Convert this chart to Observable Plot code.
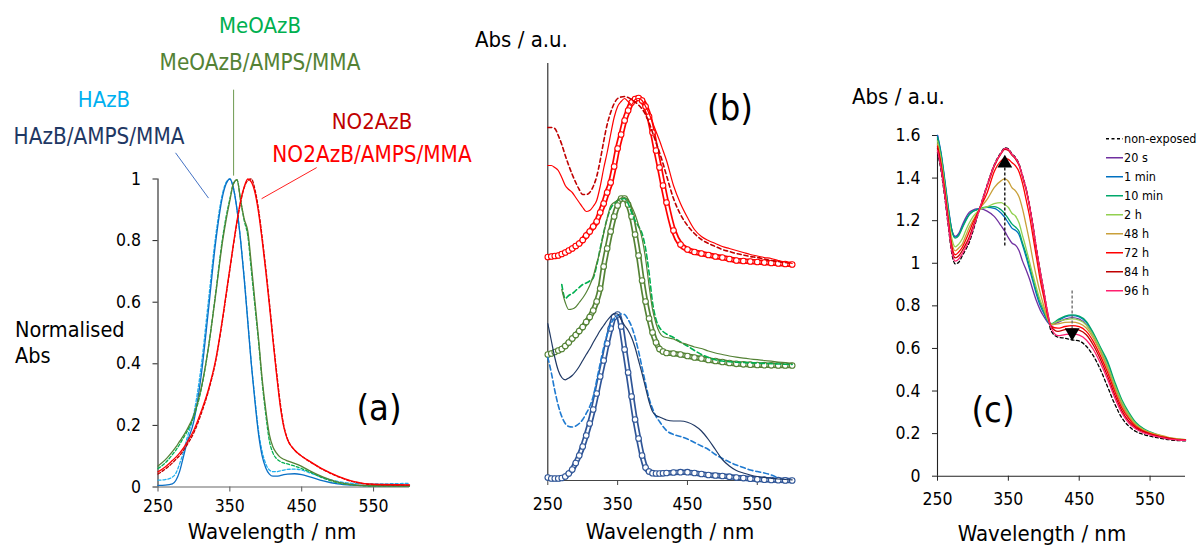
<!DOCTYPE html>
<html><head><meta charset="utf-8">
<script src="https://cdn.jsdelivr.net/npm/d3@7"></script>
<script src="https://cdn.jsdelivr.net/npm/@observablehq/plot@0.6"></script>
<style>
html,body{margin:0;padding:0;background:#fff;}
#fig{position:relative;width:1197px;height:546px;overflow:hidden;background:#fff;font-family:'DejaVu Sans Condensed','DejaVu Sans',sans-serif;color:#000;}
.pw{position:absolute;top:0;}
.lbl{position:absolute;white-space:nowrap;line-height:1;transform:translate(-50%,-50%);}
.lft{transform:translate(0,-50%);}
.leg{position:absolute;white-space:nowrap;font-size:12.5px;line-height:1;display:flex;align-items:center;transform:translate(0,-50%);}
.leg svg{margin-right:1px;}
</style></head><body><div id="fig"></div>
<script>
// ---------- tick values ----------
const xTicks = [250, 350, 450, 550];
const aYTicks = [0, 0.2, 0.4, 0.6, 0.8, 1];
const cYTicks = [0, 0.2, 0.4, 0.6, 0.8, 1, 1.2, 1.4, 1.6];

// ---------- panel (a): normalised spectra ----------
const lambdaA = [250,260,270,275,280,285,290,300,310,320,330,340,345,350,355,360,365,370,375,380,385,390,395,400,405,410,415,420,425,430,440,450,460,480,500,520,550,600];
const aHAzBFilm = [0.005,0.006,0.01,0.022,0.05,0.095,0.14,0.215,0.36,0.57,0.79,0.945,0.985,1.0,0.97,0.9,0.8,0.675,0.535,0.395,0.275,0.17,0.1,0.062,0.042,0.035,0.035,0.037,0.04,0.042,0.043,0.04,0.034,0.02,0.01,0.006,0.004,0.004];
const aHAzB = [0.022,0.024,0.032,0.045,0.075,0.11,0.155,0.24,0.39,0.6,0.81,0.955,0.99,1.0,0.97,0.9,0.8,0.68,0.54,0.4,0.285,0.18,0.115,0.075,0.055,0.05,0.05,0.052,0.055,0.057,0.058,0.055,0.047,0.03,0.018,0.012,0.01,0.012];
const aMeOFilm = [0.068,0.088,0.115,0.13,0.148,0.165,0.185,0.235,0.32,0.45,0.62,0.8,0.87,0.93,0.985,0.998,0.93,0.87,0.83,0.72,0.6,0.48,0.35,0.25,0.17,0.13,0.11,0.097,0.09,0.085,0.077,0.067,0.054,0.032,0.016,0.008,0.004,0.003];
const aMeO = [0.06,0.078,0.105,0.12,0.138,0.158,0.178,0.23,0.315,0.45,0.625,0.81,0.88,0.935,0.985,0.997,0.93,0.865,0.815,0.7,0.585,0.47,0.34,0.235,0.15,0.11,0.092,0.083,0.078,0.075,0.068,0.06,0.05,0.029,0.014,0.007,0.003,0.003];
const aNO2Film = [0.049,0.065,0.086,0.097,0.11,0.125,0.143,0.185,0.245,0.315,0.41,0.55,0.63,0.71,0.79,0.865,0.93,0.975,1.0,0.99,0.955,0.89,0.8,0.7,0.59,0.475,0.365,0.265,0.195,0.155,0.12,0.1,0.085,0.057,0.035,0.019,0.009,0.007];
const aNO2 = [0.042,0.058,0.078,0.09,0.102,0.117,0.135,0.177,0.237,0.31,0.405,0.545,0.625,0.705,0.785,0.86,0.925,0.972,0.995,1.0,0.965,0.9,0.81,0.71,0.6,0.485,0.375,0.275,0.2,0.158,0.12,0.1,0.084,0.056,0.034,0.018,0.008,0.006];
// leader lines of the labels (data units)
const leadX1 = [274.4, 355.2, 470.8];
const leadY1 = [1.085, 1.29, 1.037];
const leadX2 = [320.3, 355.2, 394.2];
const leadY2 = [0.938, 1.011, 0.936];

// ---------- panel (b): stacked spectra (a.u.) ----------
const lambdaB = [250,255,260,265,270,275,280,285,290,295,300,305,310,315,320,325,330,335,340,345,350,355,360,365,370,375,380,385,390,395,400,405,410,415,420,430,440,450,460,470,480,490,500,510,520,530,540,550,560,570,580,590,600];
const bHCirc = [0.03,0.02,0.02,0.02,0.025,0.04,0.07,0.11,0.175,0.25,0.34,0.45,0.57,0.71,0.87,1.04,1.2,1.37,1.52,1.635,1.66,1.54,1.31,1.08,0.84,0.61,0.42,0.25,0.13,0.09,0.073,0.07,0.07,0.072,0.075,0.08,0.083,0.083,0.075,0.065,0.055,0.05,0.045,0.038,0.03,0.024,0.018,0.012,0.008,0.005,0.003,0.001,0];
const bHSolid = [1.57,1.4,1.23,1.1,1.03,1.007,1.025,1.05,1.09,1.14,1.2,1.26,1.315,1.38,1.44,1.5,1.55,1.6,1.64,1.67,1.665,1.61,1.55,1.5,1.43,1.33,1.2,1.07,0.93,0.79,0.69,0.65,0.635,0.62,0.605,0.595,0.595,0.583,0.55,0.495,0.41,0.31,0.21,0.145,0.1,0.075,0.055,0.04,0.032,0.022,0.015,0.01,0.007];
const bHDash = [1.23,1.08,0.9,0.75,0.64,0.57,0.54,0.535,0.545,0.57,0.61,0.67,0.74,0.84,1.0,1.17,1.33,1.46,1.56,1.62,1.65,1.665,1.66,1.61,1.54,1.43,1.29,1.13,0.97,0.82,0.72,0.64,0.59,0.54,0.5,0.46,0.44,0.415,0.38,0.345,0.31,0.26,0.22,0.185,0.155,0.13,0.105,0.09,0.075,0.055,0.025,null,null];
const bMCirc = [1.26,1.27,1.285,1.3,1.315,1.345,1.38,1.42,1.455,1.495,1.535,1.585,1.635,1.7,1.79,1.92,2.14,2.32,2.49,2.64,2.75,2.82,2.82,2.76,2.64,2.46,2.25,2.0,1.79,1.62,1.48,1.38,1.315,1.29,1.275,1.27,1.26,1.245,1.23,1.22,1.205,1.195,1.185,1.175,1.167,1.162,1.158,1.155,1.153,1.152,1.151,1.15,1.15];
const bMSolid = [null,null,null,null,1.91,1.78,1.71,1.715,1.735,1.78,1.825,1.88,1.95,2.04,2.17,2.3,2.47,2.62,2.745,2.78,2.8,2.825,2.83,2.8,2.74,2.66,2.55,2.42,2.22,1.95,1.71,1.57,1.48,1.44,1.43,1.415,1.38,1.36,1.335,1.32,1.295,1.275,1.26,1.245,1.233,1.223,1.215,1.208,1.2,1.193,1.185,1.178,1.17];
const bMDash = [null,null,null,null,1.96,1.82,1.85,1.87,1.9,1.93,1.96,1.975,1.995,2.025,2.15,2.32,2.48,2.62,2.72,2.77,2.8,2.815,2.82,2.77,2.68,2.6,2.54,2.47,2.32,2.08,1.78,1.61,1.53,1.49,1.465,1.43,1.385,1.345,1.3,1.26,1.23,1.207,1.195,1.188,1.183,1.18,1.177,1.174,1.171,1.168,1.165,1.162,1.16];
const bNCirc = [2.235,2.24,2.245,2.25,2.265,2.28,2.3,2.32,2.345,2.37,2.405,2.45,2.49,2.54,2.59,2.68,2.77,2.88,2.98,3.14,3.32,3.46,3.6,3.7,3.78,3.815,3.825,3.8,3.74,3.64,3.48,3.3,3.13,2.95,2.78,2.5,2.36,2.31,2.285,2.27,2.255,2.24,2.23,2.215,2.2,2.195,2.19,2.185,2.18,2.175,2.17,2.165,2.16];
const bNSolid = [3.15,3.15,3.13,3.1,3.03,2.95,2.91,2.88,2.83,2.78,2.73,2.69,2.7,2.74,2.8,2.94,3.12,3.28,3.46,3.63,3.74,3.79,3.82,3.79,3.76,3.81,3.82,3.8,3.74,3.67,3.58,3.49,3.4,3.3,3.2,2.95,2.77,2.63,2.51,2.44,2.4,2.37,2.34,2.32,2.3,2.28,2.26,2.245,2.23,2.22,2.2,2.185,2.17];
const bNDash = [3.53,3.53,3.52,3.45,3.36,3.25,3.15,3.06,2.98,2.91,2.86,2.86,2.88,2.94,3.04,3.2,3.39,3.56,3.68,3.77,3.82,3.835,3.84,3.83,3.81,3.785,3.755,3.715,3.66,3.58,3.48,3.38,3.28,3.17,3.05,2.82,2.66,2.55,2.47,2.41,2.37,2.34,2.31,2.29,2.27,2.255,2.24,2.23,2.215,2.2,2.19,2.18,2.17];

// ---------- panel (c): irradiation series ----------
const lambdaC = [250,255,260,265,270,275,280,285,290,295,300,305,310,320,330,340,345,350,355,360,365,370,375,380,385,390,395,400,405,410,420,430,440,450,460,470,480,490,500,510,520,530,540,550,560,570,580,590,600];
const cNon = [1.52,1.435,1.315,1.18,1.05,0.997,1.005,1.035,1.065,1.1,1.15,1.205,1.262,1.368,1.462,1.522,1.542,1.537,1.514,1.497,1.467,1.412,1.352,1.272,1.172,1.062,0.962,0.87,0.77,0.685,0.653,0.648,0.64,0.635,0.61,0.565,0.5,0.42,0.34,0.275,0.235,0.21,0.197,0.188,0.181,0.175,0.17,0.167,0.166];
const c20s = [1.6,1.51,1.39,1.26,1.16,1.126,1.14,1.18,1.215,1.24,1.25,1.255,1.255,1.245,1.22,1.175,1.15,1.12,1.095,1.085,1.06,1.01,0.97,0.925,0.87,0.82,0.78,0.75,0.725,0.71,0.722,0.738,0.745,0.738,0.712,0.66,0.59,0.51,0.42,0.34,0.28,0.24,0.215,0.2,0.19,0.182,0.176,0.173,0.171];
const c1min = [1.6,1.52,1.4,1.27,1.16,1.123,1.135,1.17,1.205,1.23,1.245,1.252,1.256,1.262,1.258,1.235,1.215,1.19,1.165,1.155,1.135,1.085,1.03,0.97,0.91,0.85,0.8,0.765,0.73,0.712,0.73,0.748,0.754,0.748,0.722,0.668,0.6,0.53,0.435,0.352,0.292,0.247,0.22,0.204,0.193,0.184,0.177,0.173,0.171];
const c10min = [1.59,1.51,1.39,1.26,1.155,1.118,1.13,1.165,1.2,1.228,1.243,1.25,1.257,1.265,1.266,1.25,1.232,1.21,1.185,1.17,1.15,1.095,1.045,0.985,0.925,0.865,0.815,0.775,0.735,0.716,0.735,0.752,0.758,0.752,0.727,0.672,0.605,0.54,0.445,0.36,0.3,0.252,0.225,0.208,0.195,0.185,0.177,0.173,0.171];
const c2h = [1.575,1.49,1.37,1.235,1.12,1.077,1.09,1.115,1.155,1.19,1.218,1.237,1.252,1.265,1.28,1.285,1.275,1.262,1.235,1.222,1.19,1.13,1.07,1.005,0.94,0.88,0.825,0.785,0.74,0.714,0.728,0.735,0.739,0.733,0.71,0.66,0.595,0.52,0.43,0.35,0.29,0.245,0.22,0.205,0.194,0.185,0.178,0.174,0.172];
const c48h = [1.56,1.475,1.355,1.22,1.1,1.058,1.072,1.09,1.13,1.17,1.2,1.23,1.258,1.3,1.355,1.388,1.396,1.385,1.355,1.34,1.312,1.255,1.18,1.1,1.01,0.93,0.86,0.8,0.745,0.712,0.715,0.722,0.724,0.718,0.696,0.648,0.582,0.505,0.415,0.335,0.28,0.24,0.218,0.205,0.196,0.188,0.18,0.175,0.172];
const c72h = [1.55,1.465,1.345,1.21,1.085,1.04,1.053,1.075,1.11,1.15,1.19,1.225,1.26,1.33,1.43,1.482,1.493,1.488,1.473,1.458,1.43,1.375,1.3,1.22,1.12,1.02,0.92,0.84,0.76,0.705,0.695,0.703,0.707,0.702,0.68,0.632,0.565,0.488,0.4,0.322,0.27,0.233,0.213,0.2,0.191,0.183,0.176,0.172,0.17];
const c84h = [1.54,1.455,1.335,1.2,1.07,1.025,1.035,1.06,1.09,1.125,1.17,1.215,1.26,1.36,1.455,1.516,1.535,1.53,1.508,1.49,1.46,1.405,1.345,1.265,1.165,1.055,0.955,0.865,0.775,0.705,0.68,0.688,0.692,0.686,0.664,0.615,0.548,0.47,0.383,0.308,0.258,0.227,0.209,0.197,0.188,0.181,0.175,0.171,0.169];
const c96h = [1.53,1.445,1.325,1.19,1.06,1.01,1.02,1.045,1.075,1.11,1.16,1.21,1.262,1.365,1.46,1.52,1.54,1.535,1.512,1.495,1.465,1.41,1.35,1.27,1.17,1.06,0.96,0.87,0.775,0.7,0.66,0.665,0.668,0.662,0.64,0.595,0.53,0.455,0.37,0.298,0.25,0.222,0.205,0.194,0.186,0.179,0.173,0.17,0.168];
const cLabels = ["non-exposed","20 s","1 min","10 min","2 h","48 h","72 h","84 h","96 h"];
// arrows of panel (c)
const arrowX = [345, 440];
const arrowFrom = [1.083, 0.872];
const arrowTo = [1.49, 0.66];
const arrowHead = [1.47, 0.675];

// ---------- helpers ----------
const FONT = "'DejaVu Sans Condensed','DejaVu Sans',sans-serif";
const fig = document.getElementById("fig");
const rows = (xs, ys) => xs.map((x, i) => ({x, y: ys[i]})).filter(d => d.y != null && !isNaN(d.y));
const fmt = d => String(Math.round(d * 10) / 10);
const baseStyle = {fontFamily: FONT, fontSize: "17.5px", background: "transparent", color: "#000", overflow: "visible"};
function place(svg, left) {
  const w = document.createElement("div");
  w.className = "pw"; w.style.left = left + "px";
  w.appendChild(svg); fig.appendChild(w);
}
function label(text, x, y, size, color, left) {
  const d = document.createElement("div");
  d.className = "lbl" + (left ? " lft" : "");
  d.textContent = text;
  d.style.left = x + "px"; d.style.top = y + "px";
  d.style.fontSize = size + "px"; d.style.color = color || "#000";
  fig.appendChild(d);
}
const CURVE = "monotone-x";

// ---------- panel (a) ----------
const aSeries = [
  {ys: aHAzB, c: "#22b0ee", dash: "3,2"},
  {ys: aHAzBFilm, c: "#0a6fc6"},
  {ys: aMeO, c: "#00b050", dash: "3,2"},
  {ys: aMeOFilm, c: "#548235"},
  {ys: aNO2, c: "#c00000", dash: "3,2"},
  {ys: aNO2Film, c: "#ff0000"}
];
const leaders = leadX1.map((x1, i) => ({x1, y1: leadY1[i], x2: leadX2[i], y2: leadY2[i], c: ["#4472c4", "#6e9a50", "#ff2020"][i]}));
place(Plot.plot({
  width: 420, height: 546,
  marginLeft: 157.5, marginRight: 11, marginTop: 178.5, marginBottom: 59.5,
  style: baseStyle,
  x: {domain: [250, 600], label: null},
  y: {domain: [0, 1], label: null},
  marks: [
    Plot.axisX({ticks: xTicks, tickSize: 5, tickPadding: 8, label: null, tickFormat: d => String(d), stroke: "#555"}),
    Plot.axisY({ticks: aYTicks, tickSize: 5, tickPadding: 12, label: null, tickFormat: fmt, stroke: "#222"}),
    Plot.ruleY([0], {stroke: "#666", strokeWidth: 1.2}),
    Plot.ruleX([250], {stroke: "#222", strokeWidth: 1.1}),
    ...aSeries.map(s => Plot.line(rows(lambdaA, s.ys), {x: "x", y: "y", stroke: s.c, strokeWidth: 1.3, strokeDasharray: s.dash, curve: CURVE})),
    Plot.link(leaders, {x1: "x1", y1: "y1", x2: "x2", y2: "y2", stroke: "c", strokeWidth: 1})
  ]
}), 0);

// ---------- panel (b) ----------
function circleMarks(ys, color) {
  const d = rows(lambdaB, ys);
  return [
    Plot.line(d, {x: "x", y: "y", stroke: color, strokeWidth: 5.6, curve: CURVE}),
    Plot.line(d, {x: "x", y: "y", stroke: "#fff", strokeWidth: 2.2, curve: CURVE}),
    Plot.dot(d, {x: "x", y: "y", r: 2.8, stroke: color, fill: "#fff", strokeWidth: 1.1})
  ];
}
const bLine = (ys, color, dash) => Plot.line(rows(lambdaB, ys), {x: "x", y: "y", stroke: color, strokeWidth: dash ? 1.6 : 1.2, strokeDasharray: dash, curve: CURVE});
place(Plot.plot({
  width: 380, height: 546,
  marginLeft: 107.3, marginRight: 28.3, marginTop: 63, marginBottom: 66,
  style: baseStyle,
  x: {domain: [250, 600], label: null},
  y: {domain: [0, 4.17], label: null, axis: null},
  marks: [
    Plot.axisX({ticks: xTicks, tickSize: 5, tickPadding: 12, label: null, tickFormat: d => String(d), stroke: "#444"}),
    Plot.ruleY([0], {stroke: "#444", strokeWidth: 1.1}),
    Plot.ruleX([250], {stroke: "#222", strokeWidth: 1.1}),
    ...circleMarks(bHCirc, "#2f5597"),
    ...circleMarks(bMCirc, "#548235"),
    ...circleMarks(bNCirc, "#ff0000"),
    bLine(bHDash, "#1f7ad0", "5,3"),
    bLine(bHSolid, "#1f3864"),
    bLine(bMDash, "#00b050", "5,3"),
    bLine(bMSolid, "#548235"),
    bLine(bNDash, "#c00000", "4,3"),
    bLine(bNSolid, "#ff0000")
  ]
}), 440);

// ---------- panel (c) ----------
const cSeries = [
  {ys: cNon, c: "#000", dash: "3,2.5"},
  {ys: c20s, c: "#7030a0"},
  {ys: c1min, c: "#0070c0"},
  {ys: c10min, c: "#00a86b"},
  {ys: c2h, c: "#92d050"},
  {ys: c48h, c: "#c9a03a"},
  {ys: c72h, c: "#ff0000"},
  {ys: c84h, c: "#c00000"},
  {ys: c96h, c: "#ff1f6e"}
];
const arrows = arrowX.map((x, i) => ({x, y1: arrowFrom[i], y2: arrowTo[i], yh: arrowHead[i], rot: i === 0 ? 0 : 180, c: i === 0 ? "#000" : "#666"}));
place(Plot.plot({
  width: 357, height: 546,
  marginLeft: 97, marginRight: 12, marginTop: 135, marginBottom: 70.3,
  style: baseStyle,
  x: {domain: [250, 600], label: null},
  y: {domain: [0, 1.6], label: null},
  marks: [
    Plot.axisX({ticks: xTicks, tickSize: 5, tickPadding: 11, label: null, tickFormat: d => String(d), stroke: "#222"}),
    Plot.axisY({ticks: cYTicks, tickSize: 5, tickPadding: 12, label: null, tickFormat: fmt, stroke: "#222"}),
    Plot.ruleY([0], {stroke: "#222", strokeWidth: 1.1}),
    Plot.ruleX([250], {stroke: "#222", strokeWidth: 1.1}),
    ...cSeries.map(s => Plot.line(rows(lambdaC, s.ys), {x: "x", y: "y", stroke: s.c, strokeWidth: 1.3, strokeDasharray: s.dash, curve: CURVE})),
    Plot.link(arrows, {x1: "x", x2: "x", y1: "y1", y2: "y2", stroke: "c", strokeWidth: 1.3, strokeDasharray: "3,2"}),
    Plot.dot(arrows, {x: "x", y: "yh", symbol: "triangle", r: 5.5, fill: "#000", stroke: "none", rotate: "rot"})
  ]
}), 840);

// ---------- text ----------
label("MeOAzB", 260, 26, 22, "#00b050");
label("MeOAzB/AMPS/MMA", 260, 62, 22.3, "#548235");
label("HAzB", 104, 100, 22, "#00b0f0");
label("HAzB/AMPS/MMA", 99, 136, 22.3, "#1f3864");
label("NO2AzB", 372, 122, 22, "#c00000");
label("NO2AzB/AMPS/MMA", 372, 154, 22.3, "#ff0000");
label("Normalised", 15, 330, 21.5, "#000", true);
label("Abs", 15, 356, 21.5, "#000", true);
label("(a)", 379, 408, 36);
label("Wavelength / nm", 272, 532, 22);
label("Abs / a.u.", 475, 40, 22, "#000", true);
label("(b)", 730, 108, 36);
label("Wavelength / nm", 670, 532, 22);
label("Abs / a.u.", 852, 97, 22, "#000", true);
label("(c)", 993, 410, 36);
label("Wavelength / nm", 1042, 534, 22);

// legend of (c)
cSeries.forEach((s, i) => {
  const row = document.createElement("div");
  row.className = "leg";
  row.style.left = "1106px"; row.style.top = (139 + 19 * i) + "px";
  const ns = "http://www.w3.org/2000/svg";
  const sv = document.createElementNS(ns, "svg");
  sv.setAttribute("width", "17"); sv.setAttribute("height", "8");
  const ln = document.createElementNS(ns, "line");
  ln.setAttribute("x1", "0"); ln.setAttribute("x2", "17"); ln.setAttribute("y1", "4"); ln.setAttribute("y2", "4");
  ln.setAttribute("stroke", s.c); ln.setAttribute("stroke-width", "1.3");
  if (s.dash) ln.setAttribute("stroke-dasharray", "3,2.5");
  sv.appendChild(ln);
  const t = document.createElement("span"); t.textContent = cLabels[i];
  row.appendChild(sv); row.appendChild(t);
  fig.appendChild(row);
});
</script></body></html>
